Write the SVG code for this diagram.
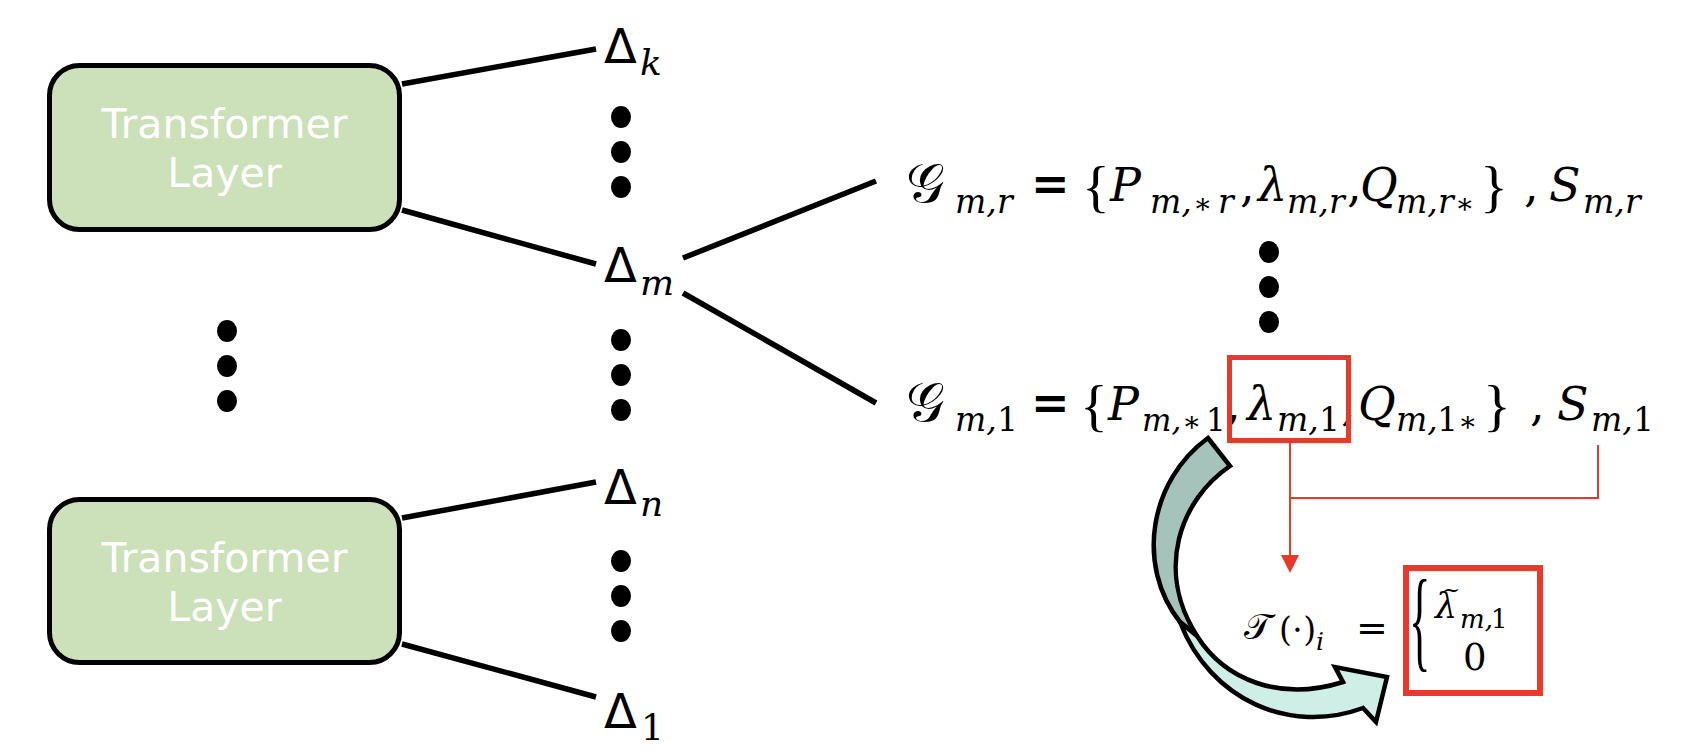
<svg xmlns="http://www.w3.org/2000/svg" width="1692" height="756" viewBox="0 0 1692 756">
<style>
.box{fill:#CCE0B9;stroke:#000;stroke-width:5}
.bt{font-family:"DejaVu Sans",sans-serif;font-size:41px;fill:#fff;text-anchor:middle}
.ln{stroke:#000;stroke-width:5.5;fill:none}
.rl{stroke:#E8392A;stroke-width:2;fill:none}
.rb{fill:none;stroke:#E8392A}
.d{font-family:"DejaVu Sans",sans-serif;font-size:48px;fill:#000}
.ds{font-family:"DejaVu Serif",serif;font-style:italic;font-size:36px}
.m{font-family:"DejaVu Serif",serif;font-style:italic;font-size:46px;fill:#000}
.cal{font-family:"DejaVu Serif","DejaVu Sans","Noto Sans",serif;font-size:54px}
.s{font-size:33px}
.st{font-size:28px;font-style:normal}
.n{font-style:normal}
.br{font-family:"Liberation Serif",serif;font-size:58px;font-style:normal}
.eq{font-size:46px;font-style:normal;font-weight:bold}
.dot{fill:#000}
</style>

<g id="connectors">
  <path class="ln" d="M402,84 L596,49"/>
  <path class="ln" d="M402,210 L596,264"/>
  <path class="ln" d="M402,518 L596,482"/>
  <path class="ln" d="M402,644 L596,697"/>
  <path class="ln" d="M683,258 L876,181"/>
  <path class="ln" d="M683,293 L876,403"/>
  <path class="rl" d="M1290,443 V557"/>
  <polygon points="1281,555 1299,555 1290,573" fill="#E8392A"/>
  <path class="rl" d="M1290,498 H1598 V445"/>
  <g id="curved-arrow" stroke="#000" stroke-width="4.5" stroke-linejoin="miter">
    <path d="M1208,438 L1230,466 C1180,500 1155,570 1197,636 L1180,622 C1135,565 1150,480 1208,438 Z" fill="#A6C3BB"/>
    <path d="M1180,622 C1210,700 1290,735 1363,708 L1376,722 L1387,677 L1335,667 L1343,682 C1280,702 1225,680 1197,636 Z" fill="#CFEEE6"/>
  </g>
</g>

<g id="layer-top">
  <rect class="box" x="49.5" y="65.5" width="350" height="164" rx="30"/>
  <text class="bt" x="224.5" y="138">Transformer</text>
  <text class="bt" x="224.5" y="187">Layer</text>
</g>
<g id="layer-bottom">
  <rect class="box" x="49.5" y="499.5" width="350" height="163" rx="30"/>
  <text class="bt" x="224.5" y="572">Transformer</text>
  <text class="bt" x="224.5" y="621">Layer</text>
</g>

<g id="left-dots">
  <ellipse class="dot" cx="227" cy="331" rx="10" ry="11"/>
  <ellipse class="dot" cx="227" cy="366" rx="10" ry="11"/>
  <ellipse class="dot" cx="227" cy="401" rx="10" ry="11"/>
</g>

<g id="delta-k">
  <text class="d" x="604" y="63">Δ<tspan class="ds" x="640" y="75">k</tspan></text>
</g>
<g id="dots-k">
  <ellipse class="dot" cx="621" cy="117" rx="10" ry="11"/>
  <ellipse class="dot" cx="621" cy="152" rx="10" ry="11"/>
  <ellipse class="dot" cx="621" cy="187" rx="10" ry="11"/>
</g>
<g id="delta-m">
  <text class="d" x="604" y="282">Δ<tspan class="ds" x="640" y="295">m</tspan></text>
</g>
<g id="dots-m">
  <ellipse class="dot" cx="621" cy="340" rx="10" ry="11"/>
  <ellipse class="dot" cx="621" cy="375" rx="10" ry="11"/>
  <ellipse class="dot" cx="621" cy="410" rx="10" ry="11"/>
</g>
<g id="delta-n">
  <text class="d" x="604" y="504">Δ<tspan class="ds" x="640" y="516">n</tspan></text>
</g>
<g id="dots-n">
  <ellipse class="dot" cx="621" cy="561" rx="10" ry="11"/>
  <ellipse class="dot" cx="621" cy="596" rx="10" ry="11"/>
  <ellipse class="dot" cx="621" cy="631" rx="10" ry="11"/>
</g>
<g id="delta-1">
  <text class="d" x="604" y="728">Δ<tspan class="ds n" x="641" y="740">1</tspan></text>
</g>

<g id="eq-r">
  <text class="m" y="201"><tspan class="cal n" x="906" y="202">𝒢</tspan><tspan class="s" x="955" y="213">m,</tspan><tspan class="s" x="997">r</tspan><tspan class="eq" x="1031" y="200">=</tspan><tspan class="br" x="1082" y="206">{</tspan><tspan x="1110" y="201">P</tspan><tspan class="s" x="1150" y="213">m,</tspan><tspan class="st" x="1193">∗</tspan><tspan class="s" x="1218">r</tspan><tspan class="n" x="1240" y="201">,</tspan><tspan x="1258">λ</tspan><tspan class="s" x="1287" y="213">m,</tspan><tspan class="s" x="1329">r</tspan><tspan class="n" x="1347" y="201">,</tspan><tspan x="1360">Q</tspan><tspan class="s" x="1396" y="213">m,</tspan><tspan class="s" x="1438">r</tspan><tspan class="st" x="1455">∗</tspan><tspan class="br" x="1480" y="206">}</tspan><tspan class="n" x="1524" y="201">,</tspan><tspan x="1549">S</tspan><tspan class="s" x="1583" y="213">m,</tspan><tspan class="s" x="1625">r</tspan></text>
</g>

<g id="mid-dots">
  <ellipse class="dot" cx="1269" cy="252" rx="10" ry="11"/>
  <ellipse class="dot" cx="1269" cy="287" rx="10" ry="11"/>
  <ellipse class="dot" cx="1269" cy="322" rx="10" ry="11"/>
</g>

<g id="eq-1">
  <text class="m" y="420"><tspan class="cal n" x="906" y="421">𝒢</tspan><tspan class="s" x="955" y="431">m,</tspan><tspan class="s n" x="997">1</tspan><tspan class="eq" x="1031" y="419">=</tspan><tspan class="br" x="1080" y="425">{</tspan><tspan x="1108" y="420">P</tspan><tspan x="1142" y="431" style="font-size:31px">m,</tspan><tspan class="st" x="1182">∗</tspan><tspan class="n" x="1206" style="font-size:31px">1</tspan><tspan class="n" x="1226" y="420">,</tspan><tspan x="1247">λ</tspan><tspan class="s" x="1277" y="431">m,</tspan><tspan class="s n" x="1319">1</tspan><tspan class="n" x="1341" y="420">,</tspan><tspan x="1358">Q</tspan><tspan class="s" x="1396" y="431">m,</tspan><tspan class="s n" x="1437">1</tspan><tspan class="st" x="1458">∗</tspan><tspan class="br" x="1483" y="425">}</tspan><tspan class="n" x="1530" y="420">,</tspan><tspan x="1557">S</tspan><tspan class="s" x="1591" y="431">m,</tspan><tspan class="s n" x="1633">1</tspan></text>
</g>
<g id="lambda-box">
  <rect class="rb" x="1229.5" y="357.5" width="119" height="83" style="stroke-width:5"/>
</g>

<g id="transform">
  <text class="m" y="641"><tspan class="cal n" x="1244" y="639" style="font-size:36px">𝒯</tspan><tspan class="n" x="1279" style="font-size:33px" y="641">(⋅)</tspan><tspan x="1316" y="650" style="font-size:25px">i</tspan><tspan class="n" x="1356" y="641" style="font-size:38px">=</tspan></text>
</g>
<g id="result-box">
  <rect class="rb" x="1406" y="568" width="134" height="125" style="stroke-width:6"/>
  <text x="0" y="0" transform="translate(1409,657) scale(0.4,1)" font-family="Liberation Serif" font-size="112" fill="#000">{</text>
  <text class="m" x="1435" y="618" style="font-size:35px">λ<tspan class="n" x="1442" y="597" style="font-size:22px">~</tspan><tspan x="1460" y="628" style="font-size:26px">m,</tspan><tspan class="n" x="1491" style="font-size:26px">1</tspan><tspan class="n" x="1463" y="670" style="font-size:37px">0</tspan></text>
</g>
</svg>
